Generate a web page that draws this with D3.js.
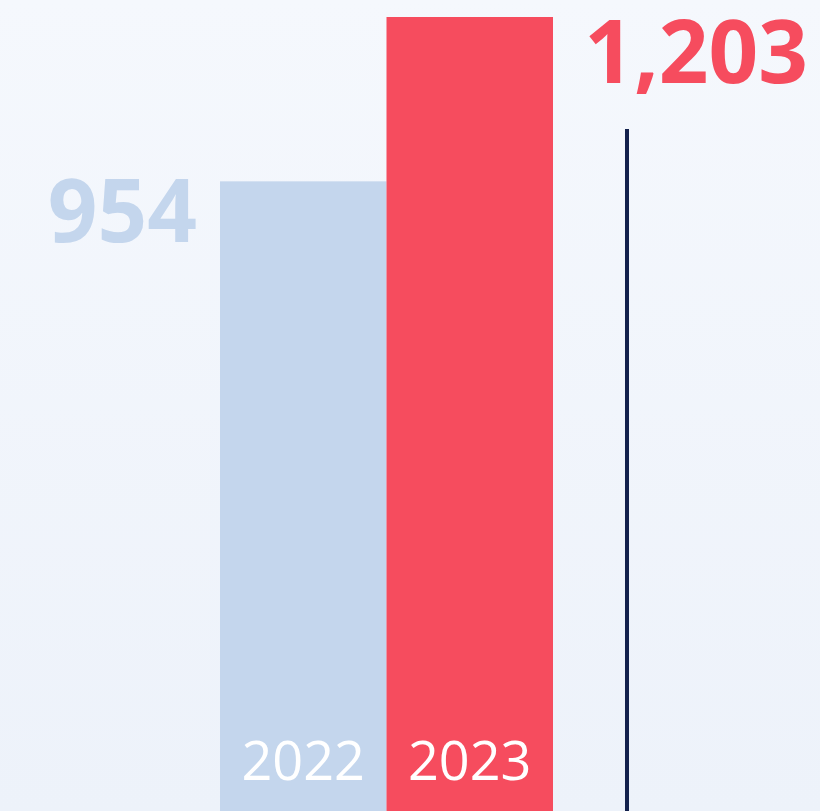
<!DOCTYPE html>
<html><head><meta charset="utf-8">
<script src="https://cdn.jsdelivr.net/npm/d3@7"></script>
<style>html,body{margin:0;padding:0;overflow:hidden;}svg{display:block;}</style>
</head><body>
<script>
const years = ["2022", "2023"];
const values = [954, 1203];
const valueLabels = ["954", "1,203"];
const colors = ["#c4d6ed", "#f64c5e"];

const W = 820, H = 811;
const svg = d3.select("body").append("svg").attr("width", W).attr("height", H);
const defs = svg.append("defs");
const g = defs.append("linearGradient").attr("id", "bg").attr("x1", 0).attr("y1", 0).attr("x2", 0).attr("y2", 1);
g.append("stop").attr("offset", "0%").attr("stop-color", "#f5f8fd");
g.append("stop").attr("offset", "100%").attr("stop-color", "#edf2fa");
svg.append("rect").attr("width", W).attr("height", H).attr("fill", "url(#bg)");

const x = d3.scaleBand().domain(years).range([220, 553]).padding(0);
const y = d3.scaleLinear().domain([0, 1203]).range([H, 17]);

svg.selectAll("rect.bar").data(years).join("rect").attr("class", "bar")
  .attr("x", d => x(d)).attr("width", x.bandwidth())
  .attr("y", (d, i) => y(values[i])).attr("height", (d, i) => H - y(values[i]))
  .attr("fill", (d, i) => colors[i]);

svg.selectAll("text.year").data(years).join("text").attr("class", "year")
  .attr("x", d => x(d) + x.bandwidth() / 2).attr("y", 780)
  .attr("text-anchor", "middle").attr("fill", "#ffffff")
  .style("font-family", "'Open Sans', sans-serif").style("font-size", "54px")
  .text(d => d);

// value labels
svg.append("text").attr("x", 197).attr("y", y(values[0]) + 61)
  .attr("text-anchor", "end").attr("fill", colors[0])
  .style("font-family", "'Open Sans', sans-serif").style("font-weight", 700).style("font-size", "87px")
  .text(valueLabels[0]);
svg.append("text").attr("x", 808).attr("y", y(values[1]) + 66)
  .attr("text-anchor", "end").attr("fill", colors[1])
  .style("font-family", "'Open Sans', sans-serif").style("font-weight", 700).style("font-size", "87px")
  .text(valueLabels[1]);

// vertical marker line
svg.append("line").attr("x1", 627).attr("x2", 627).attr("y1", 129).attr("y2", H)
  .attr("stroke", "#13214d").attr("stroke-width", 4);
</script>
</body></html>
